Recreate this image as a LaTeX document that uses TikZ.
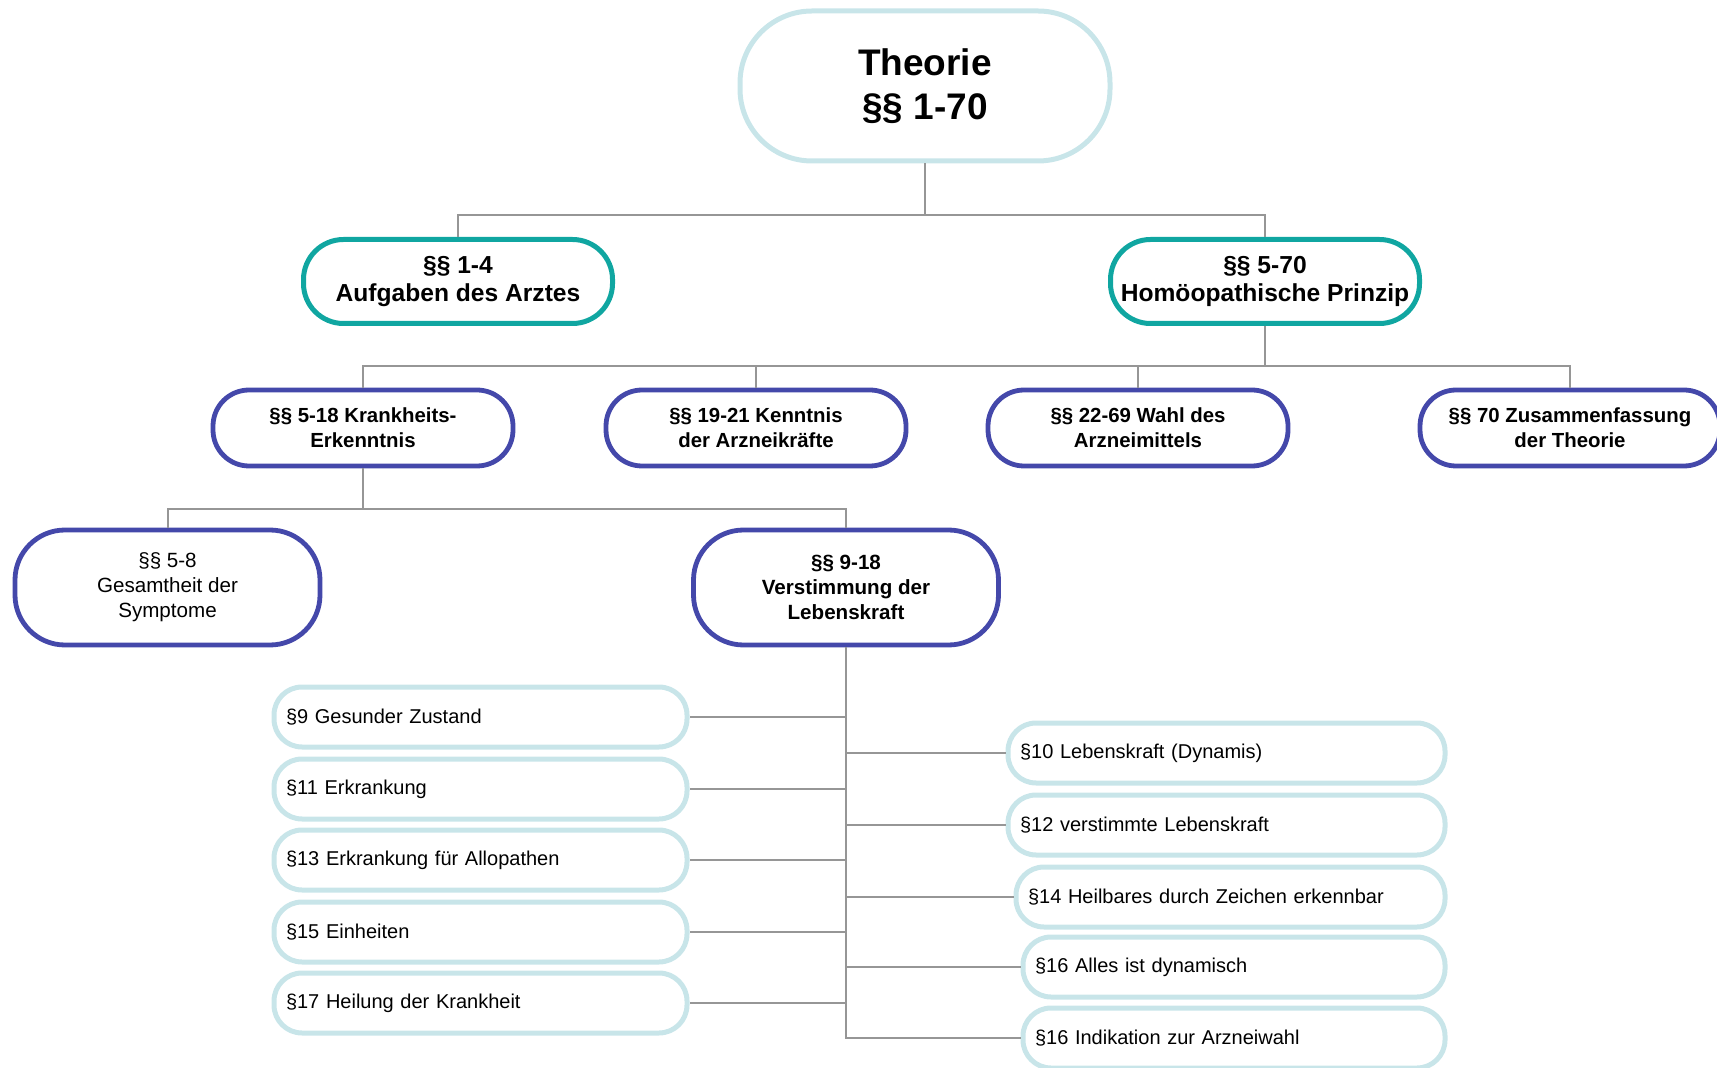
\documentclass[tikz,border=0pt]{standalone}
\usepackage{fontspec}
\setmainfont{Liberation Sans}
\usetikzlibrary{positioning}
\usepackage{xcolor}
\definecolor{paleblue}{RGB}{200,229,233}
\definecolor{tealline}{RGB}{16,166,161}
\definecolor{indigoline}{RGB}{68,72,170}
\definecolor{linkgray}{RGB}{150,150,150}

\begin{document}
\begin{tikzpicture}[x=0.5pt, y=-0.5pt,
    theory/.style={draw=paleblue, line width=2.5pt, rounded corners=36pt, minimum width=185pt, minimum height=75pt, inner sep=0pt, align=center, font=\fontsize{18.5}{22}\selectfont\bfseries},
    part/.style={draw=tealline, line width=2.5pt, rounded corners=20pt, minimum width=154.5pt, minimum height=42pt, inner sep=0pt, align=center, font=\fontsize{12.3}{13.7}\selectfont\bfseries},
    chapter/.style={draw=indigoline, line width=2.4pt, rounded corners=18pt, minimum width=150pt, minimum height=38pt, inner sep=0pt, align=center, font=\fontsize{10.2}{12.5}\selectfont\bfseries},
    topic/.style={draw=indigoline, line width=2.4pt, rounded corners=25pt, minimum width=152.5pt, minimum height=57.5pt, inner sep=0pt, align=center, font=\fontsize{10.3}{12.5}\selectfont},
    leaf/.style={draw=paleblue, line width=2.5pt, rounded corners=14pt, minimum height=30pt, inner xsep=6pt, inner ysep=0pt, text width=#1, align=left, font=\fontsize{10}{12}\selectfont},
    link/.style={draw=linkgray, line width=1pt}]

    \useasboundingbox (0,0) rectangle (1717,1068);

    % root
    \node[theory] (theorie) at (925,86) {Theorie\\§§ 1-70};

    % first level
    \node[part] (aufgaben) at (458,281.5) {§§ 1-4\\Aufgaben des Arztes};
    \node[part] (prinzip) at (1265,281.5) {§§ 5-70\\Homöopathische Prinzip};

    % second level
    \node[chapter] (erkenntnis) at (363,428) {§§ 5-18 Krankheits-\\Erkenntnis};
    \node[chapter] (arzneikraft) at (756,428) {§§ 19-21 Kenntnis\\der Arzneikräfte};
    \node[chapter] (arzneimittel) at (1138,428) {§§ 22-69 Wahl des\\Arzneimittels};
    \node[chapter] (summary) at (1570,428) {§§ 70 Zusammenfassung\\der Theorie};

    % third level
    \node[topic] (symptome) at (167.5,587.5) {§§ 5-8\\Gesamtheit der\\Symptome};
    \node[topic, font=\fontsize{10.3}{12.5}\selectfont\bfseries] (lebenskraft) at (846,587.5) {§§ 9-18\\Verstimmung der\\Lebenskraft};

    % paragraphs 9-18, left column
    \node[leaf=194.5pt] (p9) at (480.5,717) {§9 Gesunder Zustand};
    \node[leaf=194.5pt] (p11) at (480.5,789) {§11 Erkrankung};
    \node[leaf=194.5pt] (p13) at (480.5,860) {§13 Erkrankung für Allopathen};
    \node[leaf=194.5pt] (p15) at (480.5,932) {§15 Einheiten};
    \node[leaf=194.5pt] (p17) at (480.5,1003) {§17 Heilung der Krankheit};

    % paragraphs 9-18, right column
    \node[leaf=206.5pt] (p10) at (1226.5,753) {§10 Lebenskraft (Dynamis)};
    \node[leaf=206.5pt] (p12) at (1226.5,825) {§12 verstimmte Lebenskraft};
    \node[leaf=202.5pt] (p14) at (1230.5,897) {§14 Heilbares durch Zeichen erkennbar};
    \node[leaf=199pt] (p16a) at (1234,967) {§16 Alles ist dynamisch};
    \node[leaf=199pt] (p16b) at (1234,1038) {§16 Indikation zur Arzneiwahl};

    % connectors
    \draw[link] (theorie.south) -- ++(0,52) -| (aufgaben.north);
    \draw[link] (theorie.south) -- ++(0,52) -| (prinzip.north);

    \draw[link] (prinzip.south) -- ++(0,40.5) -| (erkenntnis.north);
    \draw[link] (prinzip.south) -- ++(0,40.5) -| (arzneikraft.north);
    \draw[link] (prinzip.south) -- ++(0,40.5) -| (arzneimittel.north);
    \draw[link] (prinzip.south) -- ++(0,40.5) -| (summary.north);

    \draw[link] (erkenntnis.south) -- ++(0,41) -| (symptome.north);
    \draw[link] (erkenntnis.south) -- ++(0,41) -| (lebenskraft.north);

    \draw[link] (lebenskraft.south) |- (p9.east);
    \draw[link] (lebenskraft.south) |- (p11.east);
    \draw[link] (lebenskraft.south) |- (p13.east);
    \draw[link] (lebenskraft.south) |- (p15.east);
    \draw[link] (lebenskraft.south) |- (p17.east);
    \draw[link] (lebenskraft.south) |- (p10.west);
    \draw[link] (lebenskraft.south) |- (p12.west);
    \draw[link] (lebenskraft.south) |- (p14.west);
    \draw[link] (lebenskraft.south) |- (p16a.west);
    \draw[link] (lebenskraft.south) |- (p16b.west);
\end{tikzpicture}
\end{document}
